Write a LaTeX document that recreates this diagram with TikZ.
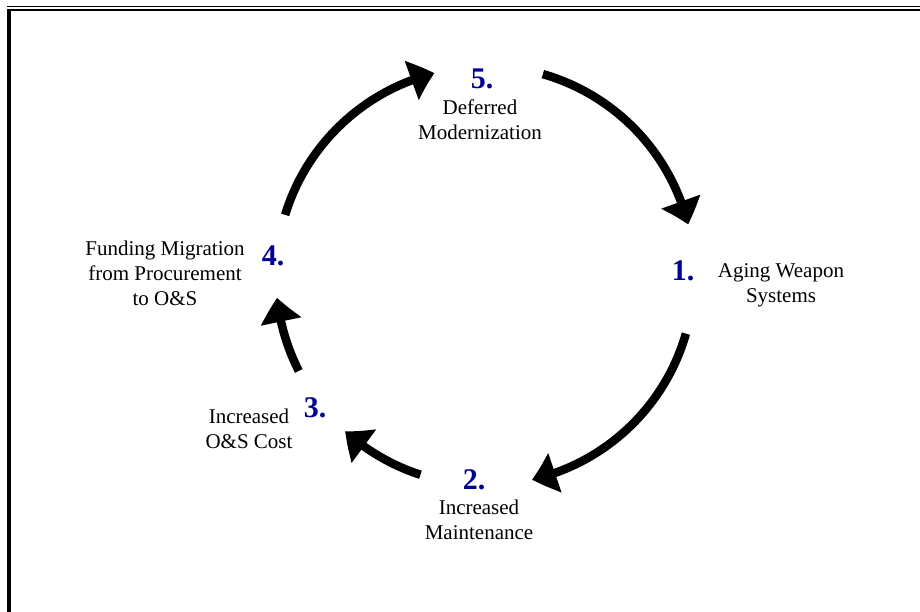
\documentclass[tikz,border=0pt]{standalone}
\usepackage{fontspec}
\setmainfont{Liberation Serif}
\usetikzlibrary{arrows.meta,bending}
\definecolor{numblue}{RGB}{0,0,150}
\tikzset{
  cyc/.style={line width=8.5pt,-{Triangle[length=24pt,width=40pt,bend]}},
  lbl/.style={align=center,inner sep=0pt,font=\fontsize{21}{25}\selectfont},
  num/.style={inner sep=0pt,text=numblue,font=\fontsize{30}{31}\selectfont\bfseries},
}
\begin{document}
\begin{tikzpicture}[x=1pt,y=1pt]
\useasboundingbox (0,0) rectangle (920,612);
% frame
\draw[line width=1.3pt] (7,605.6) -- (920,605.6);
\draw[line width=2.2pt] (7,602) -- (920,602);
\draw[line width=4.5pt] (9,603) -- (9,0);
% centre of the cycle
\coordinate (O) at (485,336);
% labels
\node[num] (n5) at (482,533) {5.};
\node[lbl] (t5) at (480,492) {Deferred\\Modernization};
\node[num] (n1) at (683,341) {1.};
\node[lbl] (t1) at (781,326.3) {Aging Weapon\\Systems};
\node[num] (n4) at (273,356) {4.};
\node[lbl] (t4) at (165,339) {Funding Migration\\from Procurement\\to O\&S};
\node[num] (n3) at (315,204) {3.};
\node[lbl] (t3) at (249,183.6) {Increased\\O\&S Cost};
\node[num] (n2) at (474,132) {2.};
\node[lbl] (t2) at (479,92) {Increased\\Maintenance};
% arc start points
\path (O) ++(74:210) coordinate (sA);
\path (O) ++(-16:209) coordinate (sB);
\path (O) ++(252:209) coordinate (sC);
\path (O) ++(207:209) coordinate (sD);
\path (O) ++(163:209) coordinate (sE);
% arrows
\draw[cyc] (sA) arc[start angle=74,end angle=14,radius=209];
\draw[cyc] (sB) arc[start angle=-16,end angle=-77,radius=209];
\draw[cyc] (sC) arc[start angle=252,end angle=228,radius=209];
\draw[cyc] (sD) arc[start angle=207,end angle=186,radius=209];
\draw[cyc] (sE) arc[start angle=163,end angle=104,radius=209];
\end{tikzpicture}
\end{document}
